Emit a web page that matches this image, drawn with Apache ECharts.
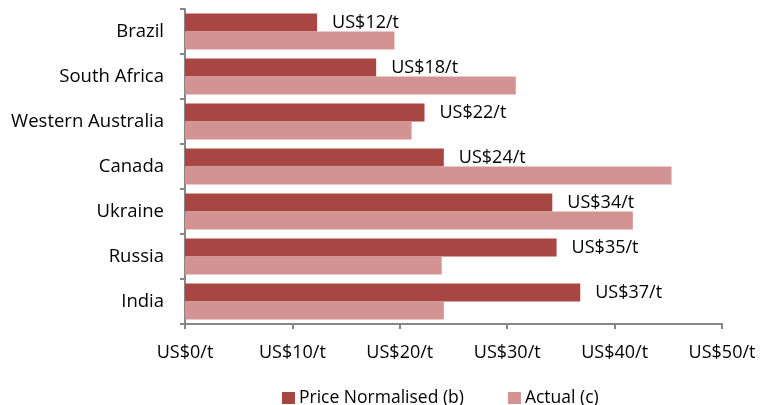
<!DOCTYPE html>
<html><head><meta charset="utf-8">
<script src="https://cdn.jsdelivr.net/npm/echarts@6/dist/echarts.min.js"></script>
<style>html,body{margin:0;padding:0;background:#fff}#c{width:761px;height:405px}</style>
</head><body><div id="c"></div>
<script>
var categories = ["Brazil","South Africa","Western Australia","Canada","Ukraine","Russia","India"];
var priceNormalised = [12.3, 17.8, 22.3, 24.1, 34.2, 34.6, 36.8];
var actual = [19.5, 30.8, 21.1, 45.3, 41.7, 23.9, 24.1];
var xTicks = [0, 10, 20, 30, 40, 50];
var seriesNames = ["Price Normalised (b)", "Actual (c)"];

var font = "'Open Sans', 'Noto Sans', sans-serif";
var chart = echarts.init(document.getElementById('c'));
chart.setOption({
  animation: false,
  textStyle: {fontFamily: font},
  grid: {left: 185, right: 39, top: 9, bottom: 81},
  legend: {
    top: 384, left: 277, itemWidth: 13, itemHeight: 12, itemGap: 44,
    icon: 'rect',
    textStyle: {fontSize: 17.5, color: '#000', fontFamily: font, padding: [0, 0, 0, -1]},
    data: seriesNames
  },
  xAxis: {
    type: 'value', min: xTicks[0], max: xTicks[xTicks.length-1], interval: 10,
    splitLine: {show: false},
    axisLine: {show: true, lineStyle: {color: '#868686', width: 2}},
    axisTick: {show: true, length: 5, lineStyle: {color: '#868686', width: 2}},
    axisLabel: {fontSize: 18, color: '#000', margin: 20, fontFamily: font,
      formatter: function(v){ return 'US$' + v + '/t'; }}
  },
  yAxis: {
    type: 'category', inverse: true, data: categories,
    axisLine: {show: true, lineStyle: {color: '#868686', width: 2}},
    axisTick: {show: true, length: 5, lineStyle: {color: '#868686', width: 2}},
    axisLabel: {fontSize: 18.5, color: '#000', margin: 21, fontFamily: font}
  },
  series: [
    {
      name: seriesNames[0], type: 'bar', data: priceNormalised,
      barGap: '0%', barCategoryGap: '20%',
      itemStyle: {color: '#A84644'},
      label: {show: true, position: 'right', distance: 15, fontSize: 18, color: '#000', fontFamily: font,
        formatter: function(p){ return 'US$' + Math.round(p.value) + '/t'; }}
    },
    {
      name: seriesNames[1], type: 'bar', data: actual,
      barGap: '0%', barCategoryGap: '20%',
      itemStyle: {color: '#D49393'}
    }
  ]
});
</script></body></html>
